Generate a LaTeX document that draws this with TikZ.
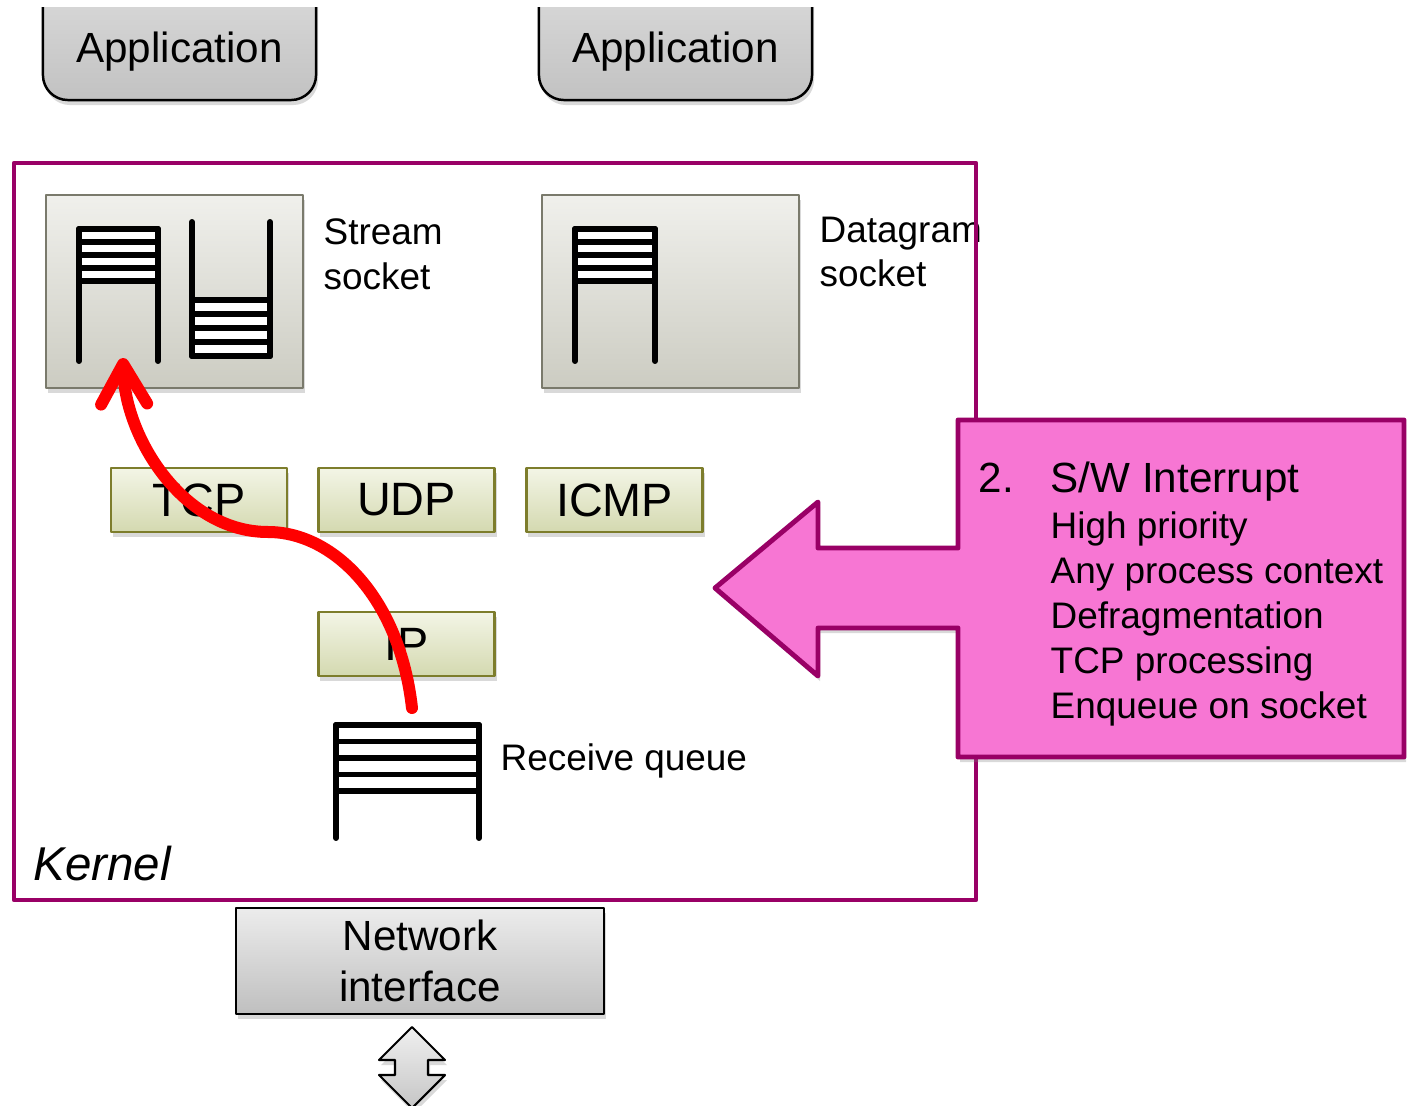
\documentclass[tikz,border=0pt]{standalone}
\usepackage{fontspec}
\setmainfont{Liberation Sans}
\usetikzlibrary{arrows.meta,shadows}
\definecolor{kpurple}{HTML}{990066}
\definecolor{kpink}{HTML}{F776D3}
\definecolor{sockedge}{HTML}{7A7A6C}
\definecolor{sockhi}{HTML}{F0F0EC}
\definecolor{socklo}{HTML}{CCCCC2}
\definecolor{protoedge}{HTML}{7D7D2C}
\definecolor{protohi}{HTML}{F3F5E6}
\definecolor{protolo}{HTML}{D4D9B0}
% white slots of a queue: x1, x2, top, bottom
\newcommand{\slots}[4]{%
  \fill[white] (#1,#3) rectangle (#2,#4);
  \foreach \k in {0,...,4}
    \draw[qline] (#1,{#3+\k*(#4-#3)/4}) -- (#2,{#3+\k*(#4-#3)/4});
}
\begin{document}
\begin{tikzpicture}[x=0.01cm, y=-0.01cm, line join=round,
    shade/.style={drop shadow={shadow xshift=0.02cm, shadow yshift=-0.05cm, opacity=0.3}},
    appbox/.style={draw=black, line width=0.7pt, rounded corners=0.25cm, top color=gray!22, bottom color=gray!48,
      minimum width=2.73cm, minimum height=1.6cm, shade},
    sockbox/.style={draw=sockedge, line width=0.6pt, top color=sockhi, bottom color=socklo,
      minimum width=2.57cm, minimum height=1.93cm, shade},
    protobox/.style={draw=protoedge, line width=0.65pt, top color=protohi, bottom color=protolo,
      minimum width=1.76cm, minimum height=0.64cm, inner sep=0pt, font=\fontsize{13.3}{15}\selectfont, shade},
    nicbox/.style={draw=black, line width=0.6pt, top color=gray!15, bottom color=gray!50,
      minimum width=3.68cm, minimum height=1.02cm, align=center, font=\fontsize{12}{14.5}\selectfont, shade},
    big/.style={font=\fontsize{12}{14}\selectfont, inner sep=0pt},
    lbl/.style={font=\fontsize{10.5}{12.8}\selectfont, inner sep=0pt},
    qline/.style={line width=1.7pt, line cap=round},
    flow/.style={red, line width=0.12cm, line cap=round, -{Straight Barb[length=0.4cm,width=0.46cm,round]}}]
  \useasboundingbox (0,0) rectangle (1408,1106);

  % applications (top edge cut off)
  \begin{scope}
    \clip (0,7) rectangle (1408,1106);
    \node[appbox] (app1box) at (179.5,20) {};
    \node[appbox] (app2box) at (675.5,20) {};
  \end{scope}
  \node[big, anchor=base] (app1) at (179.5,62) {Application};
  \node[big, anchor=base] (app2) at (675.5,62) {Application};

  % sockets
  \node[sockbox] (stream) at (174.5,291.5) {};
  \node[sockbox] (dgram) at (670.5,291.5) {};
  \slots{79}{158}{229}{281}
  \draw[qline] (79,361) -- (79,229) -- (158,229) -- (158,361);
  \slots{192}{270}{300}{356}
  \draw[qline] (192,222) -- (192,356) -- (270,356) -- (270,222);
  \slots{575}{655}{229}{281}
  \draw[qline] (575,361) -- (575,229) -- (655,229) -- (655,361);
  \node[lbl, anchor=base west] (streamtxt) at (323,244) {Stream};
  \node[lbl, anchor=base west] (streamtxt2) at (323,289) {socket};
  \node[lbl, anchor=base west] (dgramtxt) at (819,242) {Datagram};
  \node[lbl, anchor=base west] (dgramtxt2) at (819,286) {socket};

  % protocols
  \node[protobox] (tcp) at (199,500) {TCP};
  \node[protobox] (udp) at (406.5,500) {UDP};
  \node[protobox] (icmp) at (614.5,500) {ICMP};
  \node[protobox] (ip) at (406.5,644) {IP};

  % receive queue
  \slots{336}{479}{725}{791}
  \draw[qline] (336,838) -- (336,725) -- (479,725) -- (479,838);
  \coordinate (rqtop) at (412,708);
  \node[lbl, anchor=base west] (rqtxt) at (500,770) {Receive queue};

  % kernel
  \draw[kpurple, line width=1.2pt] (14,163) rectangle (976,900);
  \node[inner sep=0pt, anchor=base west, font=\fontsize{13.5}{15}\selectfont\itshape] (kernel) at (33,880) {Kernel};

  % network interface
  \node[nicbox] (nic) at (420,961) {Network\\interface};
  \draw[line width=0.6pt, top color=gray!12, bottom color=gray!45, shade]
    (412,1027) -- (445,1060) -- (428,1060) -- (428,1075) -- (445,1075) -- (412,1108)
    -- (379,1075) -- (395,1075) -- (395,1060) -- (379,1060) -- cycle;

  % soft interrupt callout
  \draw[kpurple, line width=1.4pt, fill=kpink, shade]
    (958,420) -- (1404,420) -- (1404,757) -- (958,757) -- (958,628) -- (818,628) -- (818,676)
    -- (715,588) -- (818,502) -- (818,548) -- (958,548) -- cycle;
  \node[big, anchor=base west] (num) at (978,492) {2.};
  \node[big, anchor=base west] (swi) at (1050,492) {S/W Interrupt};
  \foreach \t [count=\i] in {High priority, Any process context, Defragmentation, TCP processing, Enqueue on socket}
    \node[lbl, anchor=base west] (pt\i) at (1050,{493+45*\i}) {\t};

  % packet path
  \coordinate (socktip) at (123,358);
  \draw[flow] (rqtop) .. controls (400,600) and (335,532) .. (268,532)
    .. controls (185,532) and (125,440) .. (socktip);
\end{tikzpicture}
\end{document}
